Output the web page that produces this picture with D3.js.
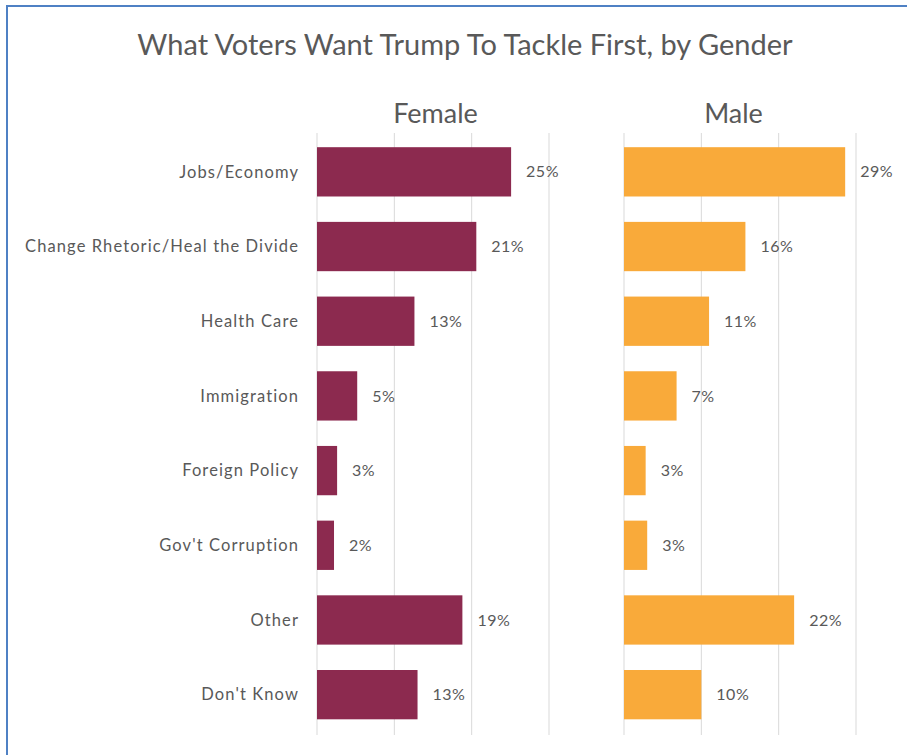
<!DOCTYPE html>
<html lang="en">

<head>
  <meta charset="utf-8">
  <title>What Voters Want Trump To Tackle First, by Gender</title>
  <script src="https://d3js.org/d3.v7.min.js"></script>
  <style>
    body {
      margin: 0;
      background: #ffffff;
    }

    text {
      font-family: Lato, "Open Sans", sans-serif;
      fill: #595959;
    }
  </style>
</head>

<body>
  <div id="my_dataviz"></div>
  <script>
    // data (percent)
    var categories = ["Jobs/Economy", "Change Rhetoric/Heal the Divide", "Health Care", "Immigration",
      "Foreign Policy", "Gov't Corruption", "Other", "Don't Know"];
    var femaleValues = [25.1, 20.6, 12.6, 5.2, 2.6, 2.2, 18.8, 13.0];
    var maleValues = [28.6, 15.7, 11.0, 6.8, 2.8, 3.0, 22.0, 10.0];
    var gridTicks = [0, 10, 20, 30];

    var width = 907,
      height = 755;

    var svg = d3.select("#my_dataviz")
      .append("svg")
      .attr("width", width)
      .attr("height", height);

    // blue frame (only left and top edges are visible)
    svg.append("line")
      .attr("x1", 7).attr("x2", 7)
      .attr("y1", 5).attr("y2", height)
      .attr("stroke", "#4f81c4")
      .attr("stroke-width", 2);
    svg.append("line")
      .attr("x1", 6).attr("x2", width)
      .attr("y1", 6).attr("y2", 6)
      .attr("stroke", "#4f81c4")
      .attr("stroke-width", 2);

    // title
    svg.append("text")
      .attr("x", 465)
      .attr("y", 55)
      .attr("text-anchor", "middle")
      .style("font-size", "29px")
      .text("What Voters Want Trump To Tackle First, by Gender");

    // shared category scale
    var y = d3.scaleBand()
      .domain(categories)
      .range([134.5, 732])
      .paddingInner(0.34)
      .paddingOuter(0.17);

    // category labels
    svg.append("g")
      .selectAll("text")
      .data(categories)
      .enter()
      .append("text")
      .attr("x", 299)
      .attr("y", function (d) { return y(d) + y.bandwidth() / 2; })
      .attr("dy", "0.35em")
      .attr("text-anchor", "end")
      .style("font-size", "16.5px")
      .style("letter-spacing", "1.1px")
      .text(function (d) { return d; });

    function drawPanel(name, values, x0, headerX, color) {
      var x = d3.scaleLinear()
        .domain([0, 30])
        .range([x0, x0 + 232]);

      var g = svg.append("g");

      // vertical gridlines
      g.selectAll("line")
        .data(gridTicks)
        .enter()
        .append("line")
        .attr("x1", function (d) { return x(d); })
        .attr("x2", function (d) { return x(d); })
        .attr("y1", 133)
        .attr("y2", 735)
        .attr("stroke", "#d9d9d9")
        .attr("stroke-width", 1);

      // panel header
      g.append("text")
        .attr("x", headerX)
        .attr("y", 123)
        .attr("text-anchor", "middle")
        .style("font-size", "27px")
        .text(name);

      // bars
      g.selectAll("rect")
        .data(values)
        .enter()
        .append("rect")
        .attr("x", x(0))
        .attr("y", function (d, i) { return y(categories[i]); })
        .attr("width", function (d) { return x(d) - x(0); })
        .attr("height", y.bandwidth())
        .attr("fill", color);

      // value labels
      g.selectAll(".val")
        .data(values)
        .enter()
        .append("text")
        .attr("class", "val")
        .attr("x", function (d) { return x(d) + 15; })
        .attr("y", function (d, i) { return y(categories[i]) + y.bandwidth() / 2; })
        .attr("dy", "0.35em")
        .style("font-size", "16px")
        .style("letter-spacing", "0.5px")
        .text(function (d) { return d.toFixed(0) + "%"; });
    }

    drawPanel("Female", femaleValues, 317, 435.5, "#8c2a4f");
    drawPanel("Male", maleValues, 624, 733.5, "#f9aa3a");
  </script>
</body>

</html>
